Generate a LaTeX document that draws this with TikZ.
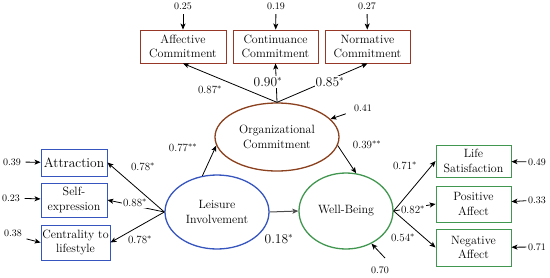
\documentclass[tikz,border=0pt]{standalone}
\usetikzlibrary{shapes.geometric, arrows.meta}
\definecolor{brownred}{RGB}{150,55,40}
\definecolor{orgbrown}{RGB}{140,65,30}
\definecolor{libblue}{RGB}{55,85,190}
\definecolor{wbgreen}{RGB}{65,150,80}

\begin{document}
\begin{tikzpicture}[x=1pt,y=-1pt,
  every node/.style={font=\fontsize{12}{14.5}\selectfont, align=center},
  ind/.style={draw, line width=0.9pt, fill=white, inner sep=1pt},
  lat/.style={ellipse, draw, line width=1.3pt, fill=white, inner sep=0pt},
  err/.style={font=\fontsize{10}{11}\selectfont, inner sep=1.5pt},
  coef/.style={font=\fontsize{11}{12}\selectfont, inner sep=1pt},
  bigcoef/.style={font=\fontsize{13.5}{15}\selectfont, inner sep=1pt},
  arr/.style={-{Stealth[length=6pt,width=5pt,inset=1.5pt]}, line width=0.8pt}]
\useasboundingbox (0,0) rectangle (550,277);
% indicators of organizational commitment
\node[ind, draw=brownred, minimum width=86pt, minimum height=33pt] (ac) at (183,46.5) {Affective\\Commitment};
\node[ind, draw=brownred, minimum width=85pt, minimum height=33pt] (cc) at (275.5,46.5) {Continuance\\Commitment};
\node[ind, draw=brownred, minimum width=85pt, minimum height=33pt] (nc) at (367.5,46.5) {Normative\\Commitment};
% latent variables
\node[lat, draw=orgbrown, minimum width=124pt, minimum height=68pt] (oc) at (277,137) {Organizational\\Commitment};
\node[lat, draw=libblue, minimum width=104pt, minimum height=74pt] (li) at (217,212) {Leisure\\Involvement};
\node[lat, draw=wbgreen, minimum width=94pt, minimum height=76pt] (wb) at (346,211) {Well-Being};
% indicators of leisure involvement
\node[ind, draw=libblue, minimum width=66pt, minimum height=27pt, font=\fontsize{13.5}{15}\selectfont] (at) at (74,162.5) {Attraction};
\node[ind, draw=libblue, minimum width=66pt, minimum height=34pt] (se) at (74,200) {Self-\\expression};
\node[ind, draw=libblue, minimum width=69pt, minimum height=35pt] (cl) at (75.5,242.5) {Centrality to\\lifestyle};
% indicators of well-being
\node[ind, draw=wbgreen, minimum width=75pt, minimum height=32pt] (ls) at (473.5,161) {Life\\Satisfaction};
\node[ind, draw=wbgreen, minimum width=75pt, minimum height=36pt] (pa) at (473.5,204) {Positive\\Affect};
\node[ind, draw=wbgreen, minimum width=75pt, minimum height=37pt] (na) at (473.5,247.5) {Negative\\Affect};
% error terms
\node[err] (e25) at (183,6) {0.25};
\node[err] (e19) at (276,6) {0.19};
\node[err] (e27) at (367,6) {0.27};
\node[err] (e41) at (363,108) {0.41};
\node[err] (e39) at (12,162) {0.39};
\node[err] (e23) at (11,198) {0.23};
\node[err] (e38) at (13,233) {0.38};
\node[err] (e49) at (537,162) {0.49};
\node[err] (e33) at (537,200) {0.33};
\node[err] (e71) at (537,247) {0.71};
\node[err] (e70) at (380,270) {0.70};
\coordinate (w70) at (385,258);
\draw[arr, shorten <=3pt] (e25) -- (ac);
\draw[arr, shorten <=3pt] (e19) -- (cc);
\draw[arr, shorten <=3pt] (e27) -- (nc);
\draw[arr, shorten <=7pt] (e41) -- (oc);
\draw[arr, shorten <=3pt] (e39) -- (at);
\draw[arr, shorten <=3pt] (e23) -- (se);
\draw[arr, shorten <=3pt] (e38.south east) -- (cl.west);
\draw[arr] (e49) -- (ls);
\draw[arr] (e33) -- (pa);
\draw[arr] (e71) -- (na);
\draw[arr] (w70) -- (wb.-52);
% paths
\draw[arr] (oc.north) -- (ac.south);
\draw[arr] (oc.north) -- (cc.south);
\draw[arr] (oc.north) -- (nc.south);
\draw[arr] (li.112) -- (oc.188);
\draw[arr] (oc.-8) -- (wb.75);
\draw[arr, line width=1pt, black!70] (li.east) -- (wb.west);
\draw[arr] (li.west) -- (at.east);
\draw[arr] (li.west) -- (se.east);
\draw[arr] (li.west) -- (cl.east);
\draw[arr] (wb.east) -- (ls.west);
\draw[arr] (wb.east) -- (pa.west);
\draw[arr] (wb.east) -- (na.west);
% coefficients
\node[coef] (c87) at (210,90) {0.87$^*$};
\node[bigcoef, fill=white] (c90) at (268,82) {0.90$^*$};
\node[bigcoef, fill=white] (c85) at (330,82) {0.85$^*$};
\node[coef] (c77) at (183,148) {0.77$^{**}$};
\node[coef] (c39) at (367,145) {0.39$^{**}$};
\node[bigcoef] (c18) at (279,239) {0.18$^*$};
\node[coef] (c78a) at (143,167) {0.78$^*$};
\node[coef, fill=white] (c88) at (135,203) {0.88$^*$};
\node[coef] (c78b) at (140,240) {0.78$^*$};
\node[coef] (c71) at (405,166) {0.71$^*$};
\node[coef, fill=white] (c82) at (413,210) {0.82$^*$};
\node[coef] (c54) at (403,238) {0.54$^*$};
\end{tikzpicture}
\end{document}
